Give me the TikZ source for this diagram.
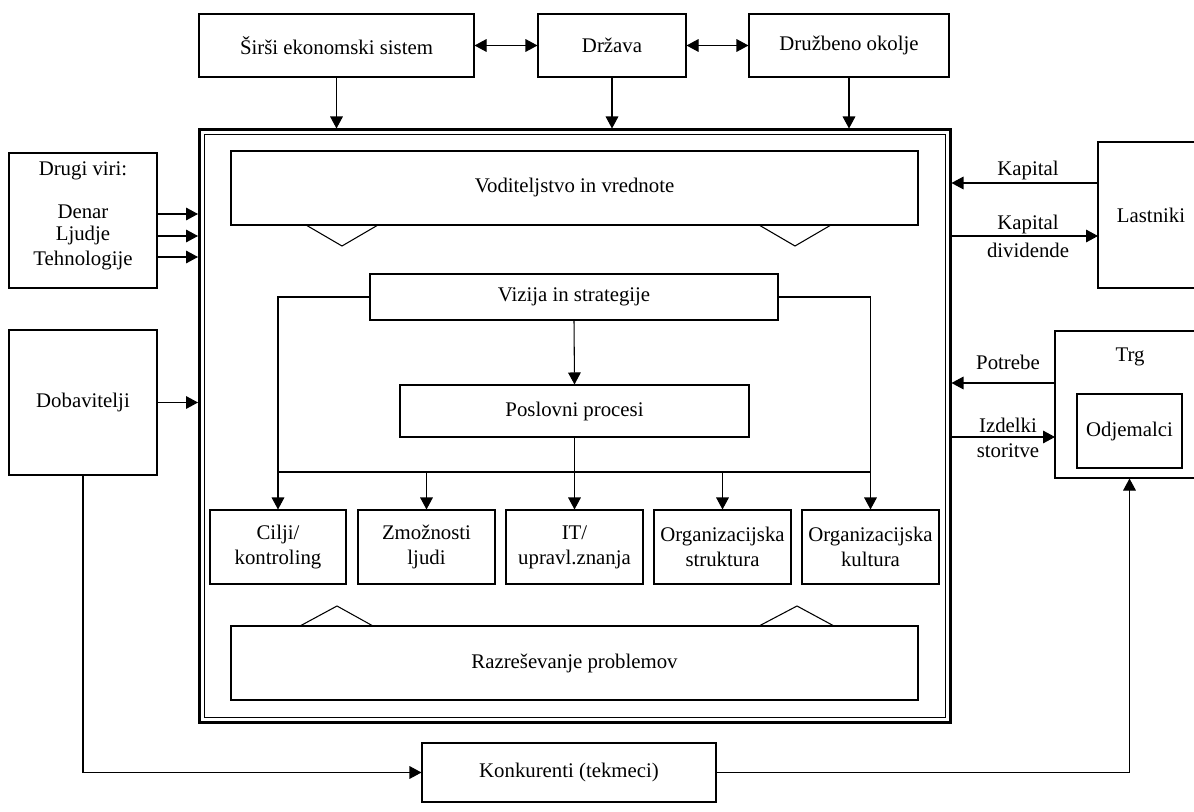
\documentclass[tikz,border=0pt]{standalone}
\usepackage{fontspec}
\setmainfont{Liberation Serif}
\usetikzlibrary{arrows.meta,fit}
\begin{document}
\begin{tikzpicture}[x=0.75pt,y=-0.75pt,
  line width=0.8pt,
  box/.style={draw, line width=0.8pt, inner sep=0pt},
  lbl/.style={inner sep=0pt, align=center},
  arr/.style={-{Triangle[length=9pt,width=9.5pt]}},
  darr/.style={{Triangle[length=9pt,width=9.5pt]}-{Triangle[length=9pt,width=9.5pt]}},
  every node/.style={font=\fontsize{15.6}{18.75}\selectfont}]
\useasboundingbox (0,0) rectangle (1194,812);
\clip (0,0) rectangle (1194,812);
% top boxes
\node[box, fit={(199,14) (474,77)}] (siri) {};
\node[lbl] at (siri.center) {Širši ekonomski sistem};
\node[box, fit={(538,14) (686,77)}] (drz) {};
\node[lbl] at (drz.center) {Država};
\node[box, fit={(749,14) (949,77)}] (druz) {};
\node[lbl] at (druz.center) {Družbeno okolje};
\draw[darr] (siri.east) -- (drz.west);
\draw[darr] (drz.east) -- (druz.west);
% main box
\node[draw, line width=2.25pt, inner sep=0pt, fit={(199.5,130) (950,722)}] (main) {};
\node[draw, line width=0.8pt, inner sep=0pt, fit={(204.5,134.5) (945.5,717.5)}] (inner) {};
\draw[arr] (siri.south) -- (siri.south |- main.north);
\draw[arr] (drz.south) -- (drz.south |- main.north);
\draw[arr] (druz.south) -- (druz.south |- main.north);
% inner content
\node[box, fit={(231,151) (918,225)}] (vod) {};
\node[lbl] at (vod.center) {Voditeljstvo in vrednote};
\draw (306,225) -- (342,246) -- (378,225);
\draw (759,225) -- (795,246) -- (831,225);
\node[box, fit={(370,274) (778,320)}] (viz) {};
\node[lbl] at (viz.center) {Vizija in strategije};
\node[box, fit={(400,385) (749,437)}] (pos) {};
\node[lbl] at (pos.center) {Poslovni procesi};
\node[box, fit={(210,510) (346,584)}] (cil) {};
\node[lbl] at (cil.center) {Cilji/\\kontroling};
\node[box, fit={(358,510) (495,584)}] (zmo) {};
\node[lbl] at (zmo.center) {Zmožnosti\\ljudi};
\node[box, fit={(506,510) (643,584)}] (it) {};
\node[lbl] at (it.center) {IT/\\upravl.znanja};
\node[box, fit={(654,510) (791,584)}] (str) {};
\node[lbl] at (str.center) {Organizacijska\\struktura};
\node[box, fit={(802,510) (939,584)}] (kul) {};
\node[lbl] at (kul.center) {Organizacijska\\kultura};
\node[box, fit={(231,626) (918,700)}] (raz) {};
\node[lbl] at (raz.center) {Razreševanje problemov};
\draw (300,626) -- (337,606) -- (373,626);
\draw (759,626) -- (797,606) -- (834,626);
\coordinate (bus) at (575,472);
\draw[arr] (viz.west) -- (cil.north |- viz.west) -- (cil.north);
\draw[arr] (viz.east) -- (kul.north |- viz.east) -- (kul.north);
\draw[arr] (viz.south) -- (pos.north);
\draw (pos.south) -- (pos.south |- bus);
\draw (cil.north |- bus) -- (kul.north |- bus);
\draw[arr] (zmo.north |- bus) -- (zmo.north);
\draw[arr] (it.north |- bus) -- (it.north);
\draw[arr] (str.north |- bus) -- (str.north);
% left side
\node[box, fit={(9,153) (157,288)}] (dru) {};
\node[lbl] (druT) at (83,171) {Drugi viri:};
\node[lbl] (den) at (83,212) {Denar};
\node[lbl] (lju) at (83,236) {Ljudje};
\node[lbl] (teh) at (83,261) {Tehnologije};
\coordinate (a1) at (157,214);
\coordinate (a2) at (157,236);
\coordinate (a3) at (157,257);
\draw[arr] (a1) -- (a1 -| main.west);
\draw[arr] (a2) -- (a2 -| main.west);
\draw[arr] (a3) -- (a3 -| main.west);
\node[box, fit={(9,330) (157,475)}] (dob) {};
\node[lbl] at (dob.center) {Dobavitelji};
\draw[arr] (dob.east) -- (dob.east -| main.west);
\node[box, fit={(422,743) (716,802)}] (kon) {};
\node[lbl] at (kon.center) {Konkurenti (tekmeci)};
\draw[arr] (dob.south) -- (dob.south |- kon.west) -- (kon.west);
% right side
\node[box, fit={(1098,142) (1204,288)}] (las) {};
\node[lbl] at (las.center) {Lastniki};
\node[box, fit={(1055,331) (1205,478)}] (trg) {};
\node[lbl] (trgT) at (1130,357) {Trg};
\node[box, fit={(1077,394) (1182,468)}] (odj) {};
\node[lbl] at (odj.center) {Odjemalci};
\coordinate (k1) at (1098,183);
\coordinate (k2) at (1098,236);
\draw[arr] (k1) -- (k1 -| main.east);
\draw[arr] (k2 -| main.east) -- (k2);
\node[lbl] at (1028,171) {Kapital};
\node[lbl] at (1028,225) {Kapital};
\node[lbl] at (1028,250) {dividende};
\coordinate (p1) at (1055,383);
\coordinate (p2) at (1055,437);
\draw[arr] (p1) -- (p1 -| main.east);
\draw[arr] (p2 -| main.east) -- (p2);
\node[lbl] at (1008,362) {Potrebe};
\node[lbl] at (1008,425) {Izdelki};
\node[lbl] at (1008,451) {storitve};
\draw[arr] (kon.east) -- (odj.south |- kon.east) -- (odj.south |- trg.south);
\end{tikzpicture}
\end{document}
